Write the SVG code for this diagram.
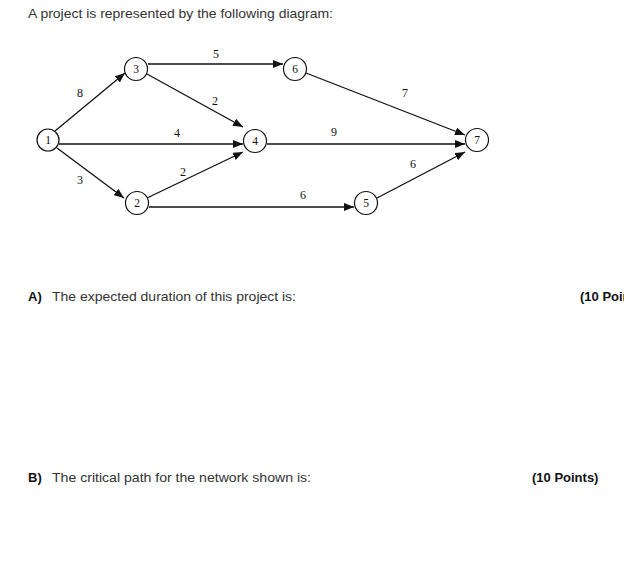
<svg xmlns="http://www.w3.org/2000/svg" width="624" height="564" viewBox="0 0 624 564">
<style>
.t{font-family:"Liberation Sans",Arial,sans-serif;font-size:13px;fill:#333}
.b{font-family:"Liberation Sans",Arial,sans-serif;font-size:13px;font-weight:bold;fill:#111}
.n circle{fill:#fff;stroke:#111;stroke-width:1.2}
.n text,.lbl{font-family:"Liberation Serif","Times New Roman",serif;font-size:11.5px;fill:#111;text-anchor:middle}
.lbl{font-size:12px}
.e line{stroke:#111;stroke-width:1.3;marker-end:url(#ah)}
</style>
<defs>
<marker id="ah" viewBox="0 0 10 8" refX="10" refY="4" markerWidth="10" markerHeight="8" markerUnits="userSpaceOnUse" orient="auto">
<path d="M0,0 L10,4 L0,8 Z" fill="#111"/>
</marker>
</defs>
<rect width="624" height="564" fill="#fff"/>
<text class="t" x="28" y="18" textLength="305" lengthAdjust="spacingAndGlyphs">A project is represented by the following diagram:</text>
<g id="connectors" class="e">
<line x1="55" y1="131" x2="125" y2="73"/>
<line x1="148" y1="64" x2="283" y2="64"/>
<line x1="147" y1="74" x2="243" y2="127"/>
<line x1="59" y1="144" x2="243" y2="144"/>
<line x1="57" y1="148" x2="124" y2="198"/>
<line x1="147" y1="198" x2="243" y2="152"/>
<line x1="149" y1="207" x2="354" y2="207"/>
<line x1="306" y1="73" x2="465" y2="135"/>
<line x1="267" y1="144" x2="465" y2="144"/>
<line x1="377" y1="198" x2="465" y2="152"/>
</g>
<g id="labels">
<text class="lbl" x="80" y="97">8</text>
<text class="lbl" x="216" y="58">5</text>
<text class="lbl" x="215" y="105">2</text>
<text class="lbl" x="177" y="137">4</text>
<text class="lbl" x="80" y="184">3</text>
<text class="lbl" x="183" y="176">2</text>
<text class="lbl" x="303" y="199">6</text>
<text class="lbl" x="405" y="97">7</text>
<text class="lbl" x="334" y="136">9</text>
<text class="lbl" x="413" y="168">6</text>
</g>
<g id="node1" class="n"><circle cx="48" cy="140" r="11"/><text x="48" y="144">1</text></g>
<g id="node3" class="n"><circle cx="136" cy="69" r="11.5"/><text x="136" y="73">3</text></g>
<g id="node6" class="n"><circle cx="295" cy="69" r="11.5"/><text x="295" y="73">6</text></g>
<g id="node4" class="n"><circle cx="255" cy="141" r="11.5"/><text x="255" y="145">4</text></g>
<g id="node2" class="n"><circle cx="137" cy="203" r="11.5"/><text x="137" y="207">2</text></g>
<g id="node5" class="n"><circle cx="366" cy="203" r="11.5"/><text x="366" y="207">5</text></g>
<g id="node7" class="n"><circle cx="477" cy="140" r="11.5"/><text x="477" y="144">7</text></g>
<text class="b" x="28" y="301">A)</text>
<text class="t" x="52" y="301" textLength="244" lengthAdjust="spacingAndGlyphs">The expected duration of this project is:</text>
<text class="b" x="580" y="301">(10 Points)</text>
<text class="b" x="28" y="482">B)</text>
<text class="t" x="52" y="482" textLength="259" lengthAdjust="spacingAndGlyphs">The critical path for the network shown is:</text>
<text class="b" x="532" y="482">(10 Points)</text>
</svg>
